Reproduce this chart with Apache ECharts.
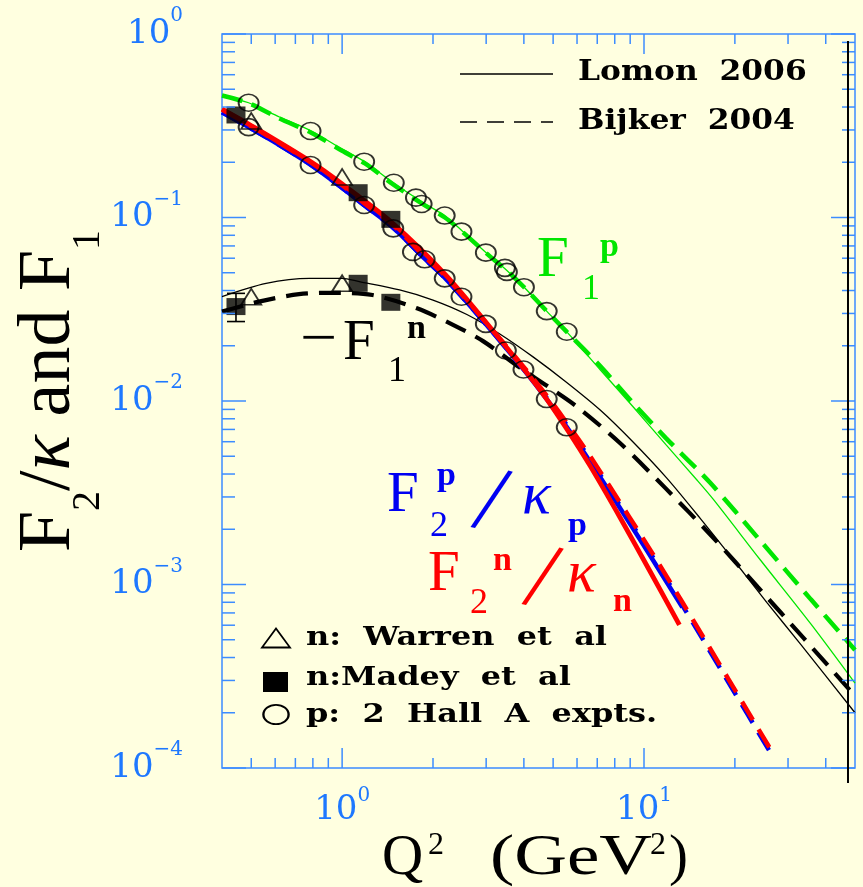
<!DOCTYPE html>
<html>
<head>
<meta charset="utf-8">
<title>F2/kappa and F1 versus Q2</title>
<script src="https://cdn.jsdelivr.net/npm/echarts@6/dist/echarts.min.js"></script>
<style>
  html, body { margin: 0; padding: 0; background: #ffffe0; }
  #chart { width: 863px; height: 887px; }
</style>
</head>
<body>
<div id="chart"></div>
<script>
// ---------------- model curves (Q^2 in GeV^2) ----------------
// Lomon 2006, proton F1
const q2F1pLomon = [0.4, 0.49, 0.62, 0.79, 1.0, 1.19, 1.48, 1.84, 2.19, 2.5, 3.0, 3.5, 4.0, 4.76, 5.55, 7.16, 9.2, 11.8, 15.0, 17.0, 24.3, 35.7, 50];
const F1pLomon   = [0.462, 0.422, 0.353, 0.296, 0.236, 0.201, 0.154, 0.1215, 0.102, 0.0844, 0.0643, 0.0517, 0.0418, 0.0309, 0.0238, 0.0148, 0.0093, 0.0058, 0.0037, 0.0029, 0.00136, 0.00061, 0.00029];
// Bijker 2004, proton F1
const q2F1pBijker = [0.4, 0.49, 0.62, 0.79, 1.0, 1.19, 1.48, 1.84, 2.19, 2.5, 3.0, 3.5, 4.0, 4.76, 5.55, 7.16, 9.2, 11.8, 16.6, 24.3, 35.7, 50];
const F1pBijker   = [0.462, 0.42, 0.346, 0.29, 0.231, 0.197, 0.151, 0.119, 0.1, 0.0836, 0.0640, 0.0517, 0.0418, 0.0309, 0.0238, 0.0155, 0.00975, 0.0063, 0.00357, 0.00173, 0.00083, 0.00044];
// Lomon 2006, -F1 neutron
const q2F1nLomon = [0.4, 0.56, 0.78, 1.0, 1.14, 1.55, 2.0, 2.59, 3.33, 4.29, 5.52, 7.16, 9.2, 11.9, 15.4, 19.8, 25.5, 33.1, 50];
const F1nLomon   = [0.0371, 0.0438, 0.0466, 0.0466, 0.0447, 0.0403, 0.0355, 0.0296, 0.0232, 0.0174, 0.0127, 0.00893, 0.00598, 0.0038, 0.00228, 0.00136, 0.00080, 0.00047, 0.00020];
// Bijker 2004, -F1 neutron
const q2F1nBijker = [0.4, 0.53, 0.72, 0.93, 1.26, 1.77, 2.33, 2.93, 3.88, 4.77, 6.0, 8.34, 11.8, 16.9, 23.8, 33.8, 50];
const F1nBijker   = [0.0307, 0.0348, 0.0382, 0.0389, 0.0378, 0.0320, 0.0260, 0.0212, 0.0152, 0.0121, 0.0093, 0.00588, 0.00334, 0.00181, 0.00097, 0.00051, 0.000247];
// Lomon 2006, F2/kappa proton
const q2F2pLomon = [0.4, 0.49, 0.62, 0.79, 1.0, 1.18, 1.48, 1.88, 2.19, 2.99, 4.0, 4.76, 5.55, 6.63, 8.87, 10.5, 13.4];
const F2pLomon   = [0.374, 0.311, 0.248, 0.193, 0.145, 0.117, 0.0877, 0.0594, 0.0468, 0.0263, 0.0148, 0.01025, 0.00722, 0.00467, 0.00222, 0.00143, 0.00075];
// Lomon 2006, F2/kappa neutron
const q2F2nLomon = [0.4, 0.49, 0.79, 1.0, 1.48, 2.19, 2.99, 4.0, 4.76, 5.55, 6.63, 8.34, 10.5, 13.1];
const F2nLomon   = [0.39, 0.323, 0.2007, 0.1523, 0.0922, 0.0492, 0.02695, 0.01494, 0.01025, 0.00704, 0.00443, 0.00231, 0.00117, 0.000603];
// Bijker 2004, F2/kappa proton and neutron
const q2F2Bijker = [0.4, 0.49, 0.62, 0.79, 1.0, 1.18, 1.48, 1.88, 2.19, 2.99, 4.0, 4.76, 5.55, 6.63, 8.87, 10.5, 13.4, 19.0, 27.0];
const F2pBijker  = [0.374, 0.311, 0.248, 0.193, 0.145, 0.117, 0.0877, 0.0594, 0.0468, 0.0263, 0.0149, 0.0104, 0.0074, 0.0048, 0.00229, 0.00148, 0.00077, 0.000295, 0.000112];
const F2nBijker  = [0.388, 0.321, 0.255, 0.199, 0.150, 0.120, 0.0905, 0.0610, 0.0482, 0.0269, 0.0153, 0.0107, 0.0076, 0.0050, 0.00238, 0.00154, 0.00080, 0.000307, 0.000117];

// ---------------- measurements ----------------
// p: 2 Hall A experiments
const q2HallF1p = [0.49, 0.786, 1.183, 1.483, 1.756, 1.834, 2.187, 2.485, 2.993, 3.461, 3.514, 4.002, 4.762, 5.548];
const hallF1p   = [0.422, 0.296, 0.2014, 0.1547, 0.1282, 0.1185, 0.1025, 0.0837, 0.0643, 0.0531, 0.0505, 0.0417, 0.0309, 0.02385];
const q2HallF2p = [0.49, 0.786, 1.183, 1.477, 1.716, 1.877, 2.187, 2.485, 2.993, 3.487, 3.988, 4.762, 5.548];
const hallF2p   = [0.311, 0.1932, 0.117, 0.0873, 0.0649, 0.0592, 0.0466, 0.037, 0.0263, 0.01885, 0.01485, 0.01025, 0.00719];
// n: Warren et al
const q2Warren   = [0.5, 1.0];
const warrenF2n  = [0.3356, 0.1662];
const warrenF1n  = [0.037, 0.0438];
// n: Madey et al
const q2Madey    = [0.445, 1.13, 1.45];
const madeyF2n   = [0.362, 0.1365, 0.0977];
const madeyF1n   = [0.0327, 0.0438, 0.0345];
const madeyF1nLo = [0.0271, null, null];
const madeyF1nHi = [0.0386, null, null];

// ---------------- axes ----------------
const X_MIN = 0.4, X_MAX = 50, Y_MIN = 1e-4, Y_MAX = 1;
const xMajorTicks = [1, 10];
const xMinorTicks = [0.5, 0.6, 0.7, 0.8, 0.9, 2, 3, 4, 5, 6, 7, 8, 9, 20, 30, 40];
const yMajorTicks = [1e-4, 1e-3, 1e-2, 1e-1, 1];
const yMinorSteps = [2, 3, 4, 5, 6, 7, 8, 9];
const EDGE_Q2 = 47.4;   // position of the extra vertical rule near the right frame

const FRAME = '#3c8cff';
const TICKTXT = '#1e78ff';
const GREEN = '#00e600';
const BLUE = '#0000f2';
const RED = '#ff0000';
const BLACK = '#000000';

function pairs(xs, ys) { return xs.map((x, i) => [x, ys[i]]); }

function curve(name, xs, ys, color, width, dash, z) {
  return {
    type: 'line', name, data: pairs(xs, ys), symbol: 'none', showSymbol: false,
    smooth: 0.3, silent: true, z,
    lineStyle: { color, width, type: dash || 'solid', cap: 'butt' }
  };
}

function markers(name, xs, ys, symbol, size, filled) {
  return {
    type: 'scatter', name, data: pairs(xs, ys), symbol, symbolSize: size, silent: true, z: 30,
    itemStyle: filled ? { color: BLACK, borderWidth: 0 }
                      : { color: 'rgba(0,0,0,0)', borderColor: BLACK, borderWidth: 1.8 }
  };
}

function powerLabel(v) {
  const e = Math.log10(v), n = Math.round(e);
  if (Math.abs(e - n) > 1e-6) return '';
  return '{b|10}{s|' + (n < 0 ? '\u2212' + (-n) : n) + '}';
}

const yMinorTicks = [];
[1e-4, 1e-3, 1e-2, 1e-1].forEach(d => yMinorSteps.forEach(m => yMinorTicks.push(m * d)));

function renderFrameTicks(params, api) {
  const kids = [];
  const seg = (a, b) => kids.push({
    type: 'line', shape: { x1: a[0], y1: a[1], x2: b[0], y2: b[1] },
    style: { stroke: FRAME, lineWidth: 1.5 }
  });
  xMajorTicks.map(v => [v, 20]).concat(xMinorTicks.map(v => [v, 10])).forEach(([v, len]) => {
    const b = api.coord([v, Y_MIN]), t = api.coord([v, Y_MAX]);
    seg(b, [b[0], b[1] - len]);
    seg(t, [t[0], t[1] + len]);
  });
  yMajorTicks.map(v => [v, 24]).concat(yMinorTicks.map(v => [v, 13])).forEach(([v, len]) => {
    const l = api.coord([X_MIN, v]), r = api.coord([X_MAX, v]);
    seg(l, [l[0] + len, l[1]]);
    seg(r, [r[0] - len, r[1]]);
  });
  return { type: 'group', children: kids };
}

function renderErrorBar(params, api) {
  const x = api.value(0);
  const lo = api.coord([x, api.value(1)]), hi = api.coord([x, api.value(2)]);
  const st = { stroke: BLACK, lineWidth: 1.6 };
  return {
    type: 'group', children: [
      { type: 'line', shape: { x1: lo[0], y1: lo[1], x2: hi[0], y2: hi[1] }, style: st },
      { type: 'line', shape: { x1: lo[0] - 9, y1: lo[1], x2: lo[0] + 9, y2: lo[1] }, style: st },
      { type: 'line', shape: { x1: hi[0] - 9, y1: hi[1], x2: hi[0] + 9, y2: hi[1] }, style: st }
    ]
  };
}

const errData = q2Madey.map((x, i) => [x, madeyF1nLo[i], madeyF1nHi[i]]).filter(d => d[1] != null);

const chart = echarts.init(document.getElementById('chart'), null, { renderer: 'canvas' });

const option = {
  backgroundColor: '#ffffe0',
  animation: false,
  grid: { left: 222, top: 34, right: 8, bottom: 119, show: true, borderColor: FRAME, borderWidth: 1.5, backgroundColor: 'transparent' },
  xAxis: {
    type: 'log', logBase: 10, min: X_MIN, max: X_MAX,
    axisLine: { show: false }, axisTick: { show: false }, splitLine: { show: false }, minorTick: { show: false },
    axisLabel: {
      margin: 18, formatter: powerLabel, showMinLabel: true, showMaxLabel: true,
      rich: {
        b: { fontFamily: 'DejaVu Serif', fontSize: 34, color: TICKTXT, lineHeight: 48 },
        s: { fontFamily: 'DejaVu Serif', fontSize: 20, color: TICKTXT, lineHeight: 20, verticalAlign: 'top' }
      }
    }
  },
  yAxis: {
    type: 'log', logBase: 10, min: Y_MIN, max: Y_MAX,
    axisLine: { show: false }, axisTick: { show: false }, splitLine: { show: false }, minorTick: { show: false },
    axisLabel: {
      margin: 39, formatter: powerLabel, showMinLabel: true, showMaxLabel: true,
      rich: {
        b: { fontFamily: 'DejaVu Serif', fontSize: 34, color: TICKTXT, lineHeight: 56 },
        s: { fontFamily: 'DejaVu Serif', fontSize: 20, color: TICKTXT, lineHeight: 20, verticalAlign: 'top' }
      }
    }
  },
  series: [
    curve('F1p Lomon', q2F1pLomon, F1pLomon, GREEN, 1.3, 'solid', 2),
    curve('F1p Bijker', q2F1pBijker, F1pBijker, GREEN, 4.5, [21, 10], 3),
    curve('-F1n Lomon', q2F1nLomon, F1nLomon, BLACK, 1.3, 'solid', 4),
    curve('-F1n Bijker', q2F1nBijker, F1nBijker, BLACK, 4.2, [22, 11], 5),
    curve('F2p Lomon', q2F2pLomon, F2pLomon, BLUE, 4.5, 'solid', 6),
    curve('F2p Bijker', q2F2Bijker, F2pBijker, BLUE, 4.5, [21, 11], 7),
    curve('F2n Lomon', q2F2nLomon, F2nLomon, RED, 4.8, 'solid', 8),
    curve('F2n Bijker', q2F2Bijker, F2nBijker, RED, 4.5, [21, 11], 9),
    markers('Hall A F1p', q2HallF1p, hallF1p, 'circle', [20, 17], false),
    markers('Hall A F2p', q2HallF2p, hallF2p, 'circle', [20, 17], false),
    markers('Warren F2n', q2Warren, warrenF2n, 'triangle', [20, 16], false),
    markers('Warren F1n', q2Warren, warrenF1n, 'triangle', [20, 16], false),
    markers('Madey F2n', q2Madey, madeyF2n, 'rect', [19, 17], true),
    markers('Madey F1n', q2Madey, madeyF1n, 'rect', [19, 17], true),
    { type: 'custom', name: 'Madey F1n error', data: errData, renderItem: renderErrorBar, silent: true, z: 31, encode: { x: 0, y: [1, 2] } },
    { type: 'custom', name: 'frame ticks', data: [[1, 0.01]], renderItem: renderFrameTicks, silent: true, z: 40, clip: false }
  ]
};

chart.setOption(option);

// ---------------- text, legend and decorations ----------------
function txt(x, y, text, size, color, o) {
  o = o || {};
  const font = (o.italic ? 'italic ' : '') + (o.bold ? 'bold ' : '') + size + 'px ' + (o.family || '"Liberation Serif"');
  return {
    type: 'text', x, y, z: 60, silent: true,
    scaleX: o.scaleX || 1, rotation: o.rotation || 0,
    style: {
      text, fill: color, font,
      textAlign: o.align || 'left', align: o.align || 'left',
      textVerticalAlign: 'middle', verticalAlign: 'middle'
    }
  };
}

const LEG_TOP = { family: '"DejaVu Serif"', bold: true, scaleX: 1.16 };
const LEG_LOW = { family: '"DejaVu Serif"', bold: true, scaleX: 1.23 };
const SLASH = { align: 'center', rotation: -0.26 };
const g = [];

// top-right legend
g.push({ type: 'line', z: 60, shape: { x1: 460, y1: 74, x2: 553, y2: 74 }, style: { stroke: BLACK, lineWidth: 1.5 } });
g.push({ type: 'line', z: 60, shape: { x1: 460, y1: 122, x2: 553, y2: 122 }, style: { stroke: BLACK, lineWidth: 1.5, lineDash: [17, 10] } });
g.push(txt(578, 73, 'Lomon  2006', 27, BLACK, LEG_TOP));
g.push(txt(578, 122, 'Bijker  2004', 27, BLACK, LEG_TOP));

// lower-left legend
g.push({ type: 'polygon', z: 60, shape: { points: [[262, 647.5], [290, 647.5], [276, 628.5]] }, style: { fill: 'none', stroke: BLACK, lineWidth: 1.8 } });
g.push({ type: 'rect', z: 60, shape: { x: 263, y: 672, width: 25, height: 20 }, style: { fill: BLACK } });
g.push({ type: 'circle', z: 60, x: 276, y: 714.5, scaleX: 1.3, shape: { cx: 0, cy: 0, r: 9.7 }, style: { fill: 'none', stroke: BLACK, lineWidth: 1.8, strokeNoScale: true } });
g.push(txt(306, 638, 'n:  Warren  et  al', 26, BLACK, LEG_LOW));
g.push(txt(306, 678, 'n:Madey  et  al', 26, BLACK, LEG_LOW));
g.push(txt(306, 715, 'p:  2  Hall  A  expts.', 26, BLACK, LEG_LOW));

// curve annotations
g.push(txt(537, 261, 'F', 57, GREEN));
g.push(txt(582, 290, '1', 36, GREEN));
g.push(txt(600, 247, 'p', 34, GREEN, { bold: true }));

g.push(txt(300, 341, '\u2212', 57, BLACK, { scaleX: 1.15 }));
g.push(txt(343, 344, 'F', 57, BLACK));
g.push(txt(388, 372, '1', 36, BLACK));
g.push(txt(407, 329, 'n', 34, BLACK, { bold: true }));

g.push(txt(387, 496, 'F', 57, BLUE));
g.push(txt(430, 527, '2', 36, BLUE));
g.push(txt(437, 476, 'p', 34, BLUE, { bold: true }));
g.push(txt(490, 505, '/', 96, BLUE, SLASH));
g.push(txt(522, 497, '\u03ba', 60, BLUE, { italic: true }));
g.push(txt(568, 526, 'p', 34, BLUE, { bold: true }));

g.push(txt(428, 575, 'F', 57, RED));
g.push(txt(470, 604, '2', 36, RED));
g.push(txt(493, 561, 'n', 34, RED, { bold: true }));
g.push(txt(541, 582, '/', 96, RED, SLASH));
g.push(txt(567, 575, '\u03ba', 60, RED, { italic: true }));
g.push(txt(613, 602, 'n', 34, RED, { bold: true }));

// axis titles
g.push(txt(382, 859, 'Q', 57, BLACK));
g.push(txt(428, 846, '2', 32, BLACK));
g.push(txt(490, 859, '(GeV', 57, BLACK, { scaleX: 1.28 }));
g.push(txt(650, 846, '2', 32, BLACK));
g.push(txt(669, 859, ')', 57, BLACK));

g.push({
  type: 'text', x: 50, y: 391, rotation: Math.PI / 2, z: 60, silent: true,
  style: {
    text: '{f|F}{s|2}{f|/}{k|\u03ba}{f| and F}{s|1}',
    textAlign: 'center', align: 'center', textVerticalAlign: 'middle', verticalAlign: 'middle',
    rich: {
      f: { fontFamily: 'Liberation Serif', fontSize: 74, lineHeight: 116, fill: BLACK },
      k: { fontFamily: 'Liberation Serif', fontStyle: 'italic', fontSize: 74, lineHeight: 116, fill: BLACK },
      s: { fontFamily: 'Liberation Serif', fontSize: 40, lineHeight: 40, verticalAlign: 'bottom', fill: BLACK }
    }
  }
});

// extra vertical rule near the right frame
const edgeX = chart.convertToPixel({ xAxisIndex: 0 }, EDGE_Q2);
const topY = chart.convertToPixel({ yAxisIndex: 0 }, Y_MAX);
const botY = chart.convertToPixel({ yAxisIndex: 0 }, Y_MIN);
g.push({ type: 'line', z: 61, shape: { x1: edgeX, y1: topY + 7, x2: edgeX, y2: botY + 15 }, style: { stroke: BLACK, lineWidth: 2 } });

chart.setOption({ graphic: g });
</script>
</body>
</html>
